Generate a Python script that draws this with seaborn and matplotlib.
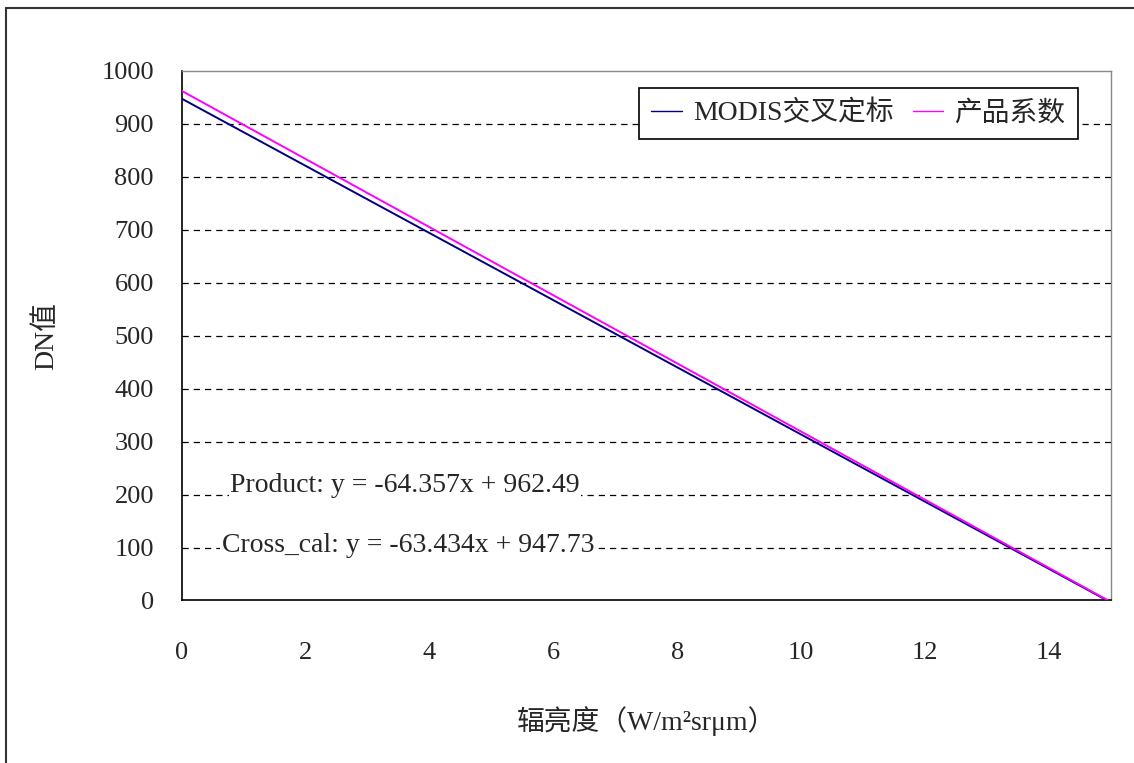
"""
DN值与辐亮度的定标直线对比图（MODIS交叉定标 vs 产品系数）。
"""
import numpy as np
import pandas as pd
import matplotlib
matplotlib.use("Agg")
import matplotlib.pyplot as plt
import seaborn as sns
from matplotlib.lines import Line2D

# 数据（从原图读取的直线端点）
radiance = [0.0, 15.0]
dn_cross_cal = [947.73, -3.8]
dn_product = [962.49, -2.9]
series_names = ["MODIS交叉定标", "产品系数"]
series_colors = ["#000080", "#FF00FF"]
x_ticks = [0, 2, 4, 6, 8, 10, 12, 14]
y_ticks = [0, 100, 200, 300, 400, 500, 600, 700, 800, 900, 1000]
eq_texts = ["Product: y = -64.357x + 962.49", "Cross_cal: y = -63.434x + 947.73"]
eq_pos = [(3.6, 218), (3.65, 104)]

df = pd.DataFrame({
    "x": radiance * 2,
    "y": dn_cross_cal + dn_product,
    "series": [series_names[0]] * len(radiance) + [series_names[1]] * len(radiance),
})

sns.set_style("white")
plt.rcParams["font.family"] = ["Liberation Serif", "Noto Sans CJK SC", "DejaVu Sans"]

fig = plt.figure(figsize=(11.34, 7.63), dpi=100)
ax = fig.add_axes([0.1602, 0.213, 0.8195, 0.694])

# 虚线网格
for yv in y_ticks[1:-1]:
    ax.axhline(yv, color="black", linestyle=(0, (5, 4)), linewidth=0.9, zorder=1)

sns.lineplot(data=df, x="x", y="y", hue="series", palette=series_colors,
             hue_order=series_names, linewidth=1.4, ax=ax, zorder=3)

ax.set_xlim(0, 15)
ax.set_ylim(0, 1000)
ax.set_xticks(x_ticks)
ax.set_yticks(y_ticks)
ax.tick_params(axis="x", direction="in", length=7, width=1, pad=30, labelsize=19)
ax.tick_params(axis="y", direction="in", length=3, width=1, pad=20, labelsize=19)

for side in ["left", "bottom"]:
    ax.spines[side].set_color("black")
    ax.spines[side].set_linewidth(1.2)
for side in ["top", "right"]:
    ax.spines[side].set_color("#888888")
    ax.spines[side].set_linewidth(1.0)

ax.set_xlabel("辐亮度（W/m²srμm）", fontsize=20, labelpad=30)
ax.set_ylabel("DN值", fontsize=20, labelpad=30)

# 回归方程
for txt, (tx, ty) in zip(eq_texts, eq_pos):
    ax.text(tx, ty, txt, fontsize=20, ha="center", va="center", zorder=2,
            bbox=dict(facecolor="white", edgecolor="none", pad=1))

handles, labels = ax.get_legend_handles_labels()
leg = ax.legend(handles, labels, loc="upper right", bbox_to_anchor=(0.9645, 0.968),
                ncol=2, fontsize=20, frameon=True, fancybox=False, shadow=False,
                framealpha=1, handlelength=1.1, handletextpad=0.4, columnspacing=0.7,
                borderpad=0.45, borderaxespad=0)
leg.get_frame().set_edgecolor("black")
leg.get_frame().set_linewidth(1.2)
for line in leg.get_lines():
    line.set_linewidth(1.0)

# 外框（只有左边和上边可见）
fig.add_artist(Line2D([6 / 1134, 6 / 1134], [0, 1 - 8 / 763], color="#333333", linewidth=1.5))
fig.add_artist(Line2D([6 / 1134, 1], [1 - 8 / 763, 1 - 8 / 763], color="#333333", linewidth=1.5))

fig.savefig("out.png", dpi=100)
plt.close(fig)
